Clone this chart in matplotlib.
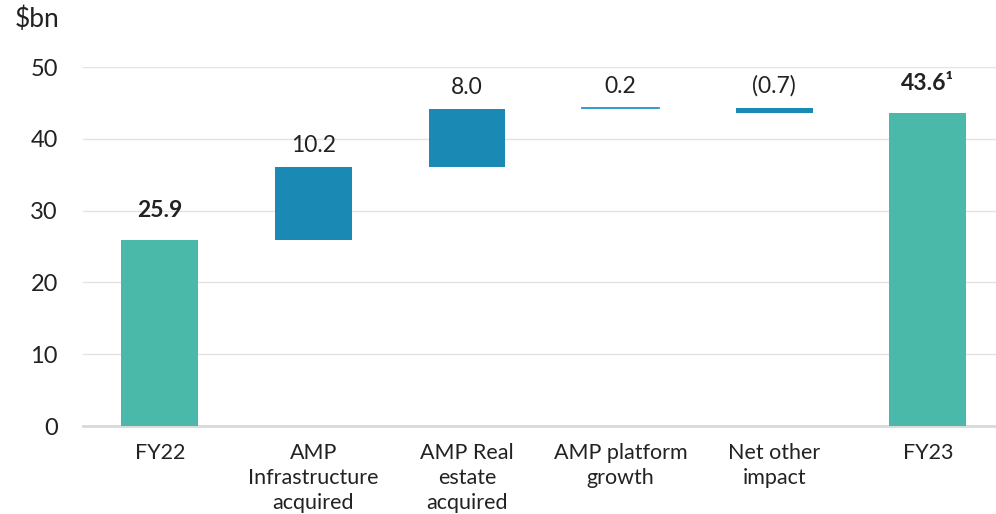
import matplotlib.pyplot as plt
import numpy as np

plt.rcParams['font.family'] = ['Lato', 'DejaVu Sans']

categories = ['FY22', 'AMP\nInfrastructure\nacquired', 'AMP Real\nestate\nacquired',
              'AMP platform\ngrowth', 'Net other\nimpact', 'FY23']
changes = [25.9, 10.2, 8.0, 0.2, -0.7, 43.6]
is_total = [True, False, False, False, False, True]
labels = ['25.9', '10.2', '8.0', '0.2', '(0.7)', '43.6¹']

teal = '#4bb9a9'
blue = '#1a8ab4'

# waterfall bottoms / heights
bottoms = []
heights = []
running = 0.0
for val, tot in zip(changes, is_total):
    if tot:
        bottoms.append(0)
        heights.append(val)
        running = val
    else:
        if val >= 0:
            bottoms.append(running)
        else:
            bottoms.append(running + val)
        heights.append(abs(val))
        running += val

fig = plt.figure(figsize=(9.96, 5.14), dpi=100)
ax = fig.add_axes([0.0833, 0.1712, 0.9253, 0.6984])

x = np.arange(len(categories))
for i in range(len(categories)):
    color = teal if is_total[i] else blue
    if heights[i] < 0.5:
        ax.plot([x[i] - 0.25, x[i] + 0.25], [bottoms[i] + heights[i]] * 2,
                color='#2196c8', lw=1.3, zorder=3)
    else:
        ax.bar(x[i], heights[i], bottom=bottoms[i], width=0.5, color=color, zorder=3)
    top = bottoms[i] + heights[i]
    ax.annotate(labels[i], (x[i], top), xytext=(0, 14 if is_total[i] else 8),
                textcoords='offset points', ha='center', va='bottom',
                fontsize=16.5, color='#222222',
                fontweight='bold' if is_total[i] else 'normal')

ax.set_xlim(-0.5, len(categories) - 0.5)
ax.set_ylim(0, 50)
ax.set_yticks([0, 10, 20, 30, 40, 50])
ax.set_xticks(x)
ax.set_xticklabels(categories, fontsize=15.5, color='#222222', linespacing=1.3)
ax.tick_params(axis='y', length=0, pad=18, labelsize=17, labelcolor='#222222')
ax.tick_params(axis='x', length=0, pad=12.5)
ax.grid(axis='y', color='#e3e3e3', lw=1, zorder=0)
for s in ['top', 'right', 'left']:
    ax.spines[s].set_visible(False)
ax.spines['bottom'].set_color('#d9d9d9')
ax.spines['bottom'].set_linewidth(2)

fig.text(0.015, 0.963, '$bn', fontsize=19, color='#222222', va='center', ha='left')

fig.savefig('out.png', dpi=100)
